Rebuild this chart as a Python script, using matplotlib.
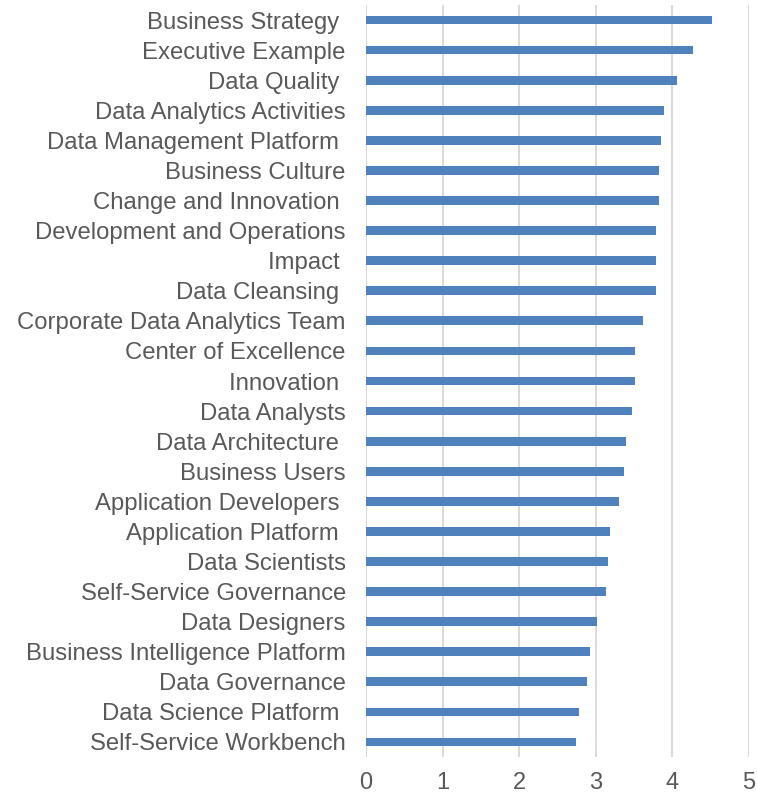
import matplotlib.pyplot as plt

plt.rcParams['font.family'] = ['Liberation Sans', 'DejaVu Sans']

labels = ["Business Strategy ", "Executive Example", "Data Quality ", "Data Analytics Activities",
          "Data Management Platform ", "Business Culture", "Change and Innovation ",
          "Development and Operations", "Impact ", "Data Cleansing ", "Corporate Data Analytics Team",
          "Center of Excellence", "Innovation ", "Data Analysts", "Data Architecture ",
          "Business Users", "Application Developers ", "Application Platform ", "Data Scientists",
          "Self-Service Governance", "Data Designers", "Business Intelligence Platform",
          "Data Governance", "Data Science Platform ", "Self-Service Workbench"]
scores = [4.52, 4.27, 4.06, 3.89, 3.85, 3.82, 3.82, 3.79, 3.79, 3.79, 3.61, 3.51, 3.51,
          3.47, 3.40, 3.37, 3.30, 3.19, 3.16, 3.13, 3.02, 2.92, 2.88, 2.78, 2.74]
xticks = [0, 1, 2, 3, 4, 5]

fig = plt.figure(figsize=(7.57, 7.95), dpi=100)
ax = fig.add_axes([0.4835, 0.0478, 0.5060, 0.9459])

pos = list(range(len(labels)))[::-1]
ax.barh(pos, scores, height=0.29, color='#4F81BD', zorder=3)

ax.set_xlim(0, 5)
ax.set_ylim(-0.5, len(labels) - 0.5)
ax.set_xticks(xticks)
ax.set_yticks(pos)
ax.set_yticklabels(labels)
ax.xaxis.grid(True, color='#D9D9D9', linewidth=1.4, zorder=0)
for s in ax.spines.values():
    s.set_visible(False)
ax.tick_params(axis='y', length=0, pad=14.5, labelsize=17.2, labelcolor='#595959')
ax.tick_params(axis='x', length=0, pad=11, labelsize=17, labelcolor='#595959')

fig.savefig('out.png', dpi=100)
